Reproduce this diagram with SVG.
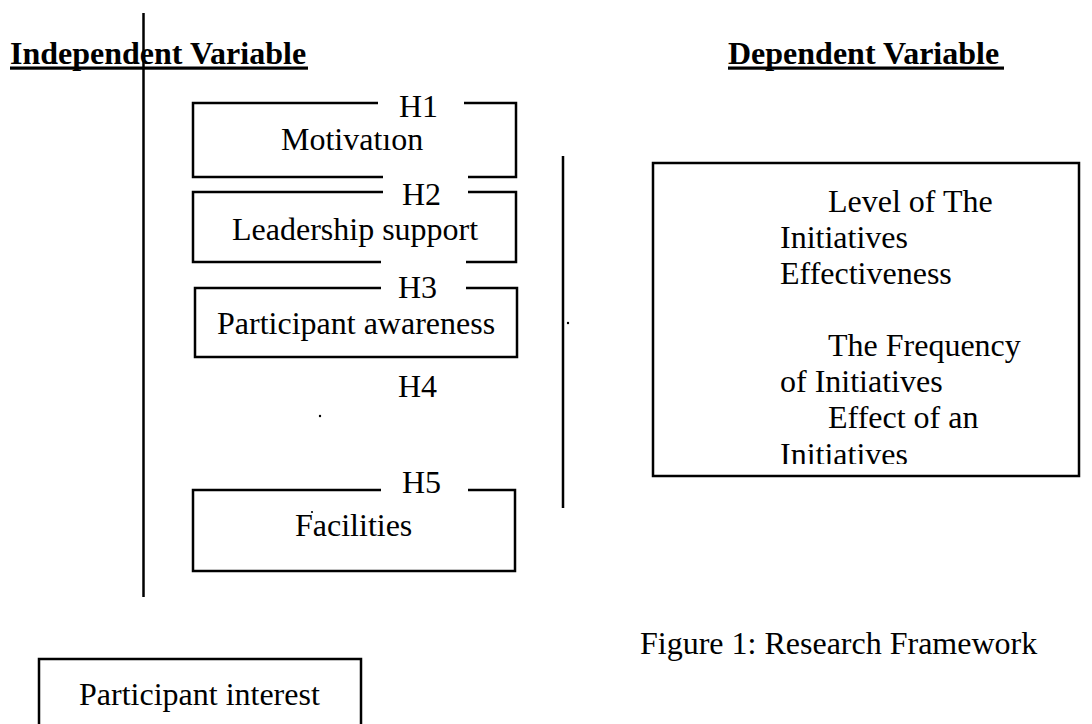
<svg xmlns="http://www.w3.org/2000/svg" width="1092" height="724" viewBox="0 0 1092 724">
<style>
  text { font-family: "Liberation Serif", "Times New Roman", serif; font-size: 32px; fill: #000; }
  .hd { font-weight: bold; }
  .box { fill: none; stroke: #000; stroke-width: 2.5; }
  .ln { stroke: #000; stroke-width: 2.5; fill: none; }
  .mask { fill: #fff; stroke: none; }
</style>
<defs>
  <clipPath id="rclip"><rect x="655" y="165" width="422" height="299"/></clipPath>
</defs>
<rect width="1092" height="724" fill="#fff"/>

<g id="headings">
  <text class="hd" x="10" y="64">Independent Variable</text>
  <rect x="10" y="66.5" width="298" height="3.2"/>
  <text class="hd" x="728" y="64">Dependent Variable</text>
  <rect x="728" y="66.5" width="276" height="3.2"/>
</g>

<g id="connectors">
  <line class="ln" x1="143.5" y1="13" x2="143.5" y2="597"/>
  <line class="ln" x1="563" y1="156" x2="563" y2="508"/>
  <circle cx="568" cy="323" r="1.2"/>
  <circle cx="320" cy="416" r="1.2"/>
</g>

<g id="node-motivation">
  <rect class="box" x="193" y="103" width="323" height="74"/>
  <text x="281" y="150">Motivation</text>
</g>
<g id="node-leadership">
  <rect class="box" x="193" y="192" width="323" height="70"/>
  <text x="232" y="240">Leadership support</text>
</g>
<g id="node-awareness">
  <rect class="box" x="195" y="288" width="322" height="69"/>
  <text x="217" y="334">Participant awareness</text>
</g>
<g id="node-facilities">
  <rect class="box" x="193" y="490" width="322" height="81"/>
  <text x="295" y="536">Facilities</text>
  <circle cx="312" cy="512" r="1.1"/>
</g>

<g id="label-h1">
  <rect class="mask" x="378" y="88" width="86" height="45"/>
  <text x="399" y="117">H1</text>
</g>
<g id="label-h2">
  <rect class="mask" x="383" y="172" width="85" height="44"/>
  <text x="402" y="205">H2</text>
</g>
<g id="label-h3">
  <rect class="mask" x="381" y="258" width="85" height="50"/>
  <text x="398" y="298">H3</text>
</g>
<g id="label-h4">
  <text x="398" y="397">H4</text>
</g>
<g id="label-h5">
  <rect class="mask" x="381" y="462" width="87" height="42"/>
  <text x="402" y="493">H5</text>
</g>

<g id="node-dependent">
  <rect class="box" x="653" y="163" width="426" height="313"/>
  <g clip-path="url(#rclip)">
    <text x="828" y="212">Level of The</text>
    <text x="780" y="248">Initiatives</text>
    <text x="780" y="284">Effectiveness</text>
    <text x="828" y="356">The Frequency</text>
    <text x="780" y="392">of Initiatives</text>
    <text x="828" y="428">Effect of an</text>
    <text x="780" y="465">Initiatives</text>
  </g>
</g>

<g id="caption">
  <text x="640" y="654">Figure 1: Research Framework</text>
</g>

<g id="node-interest">
  <rect class="box" x="39" y="659" width="322" height="80"/>
  <text x="79" y="705">Participant interest</text>
</g>
</svg>
